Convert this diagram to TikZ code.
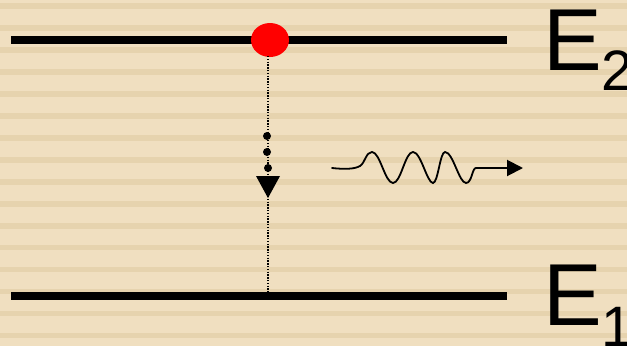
\documentclass[tikz,border=0pt]{standalone}
\usepackage{fontspec}
\setmainfont{Liberation Sans}
\usetikzlibrary{arrows.meta,shapes.geometric}
\definecolor{bglight}{RGB}{240,223,192}
\definecolor{bgstripe}{RGB}{230,211,174}
\begin{document}
\begin{tikzpicture}[x=1pt,y=-1pt,
  level/.style={line width=8pt},
  guide/.style={line width=1.3pt,dash pattern=on 1.3pt off 1.5pt},
  wave/.style={line width=1.8pt,line cap=round},
  bigtxt/.style={inner sep=0pt,anchor=base west,font=\fontsize{88}{88}\selectfont},
  subtxt/.style={inner sep=0pt,anchor=base west,font=\fontsize{57}{57}\selectfont}]
\useasboundingbox (0,0) rectangle (627,346);
\fill[bglight] (0,0) rectangle (627,346);
\foreach \k in {0,...,15}{
  \fill[bgstripe] (0,{3.3+21.96*\k}) rectangle (627,{8.9+21.96*\k});
}
% levels
\coordinate (t1) at (11,40);
\coordinate (t2) at (507,40);
\coordinate (b1) at (11,296);
\coordinate (b2) at (507,296);
\draw[level] (t1) -- (t2);
\draw[level] (b1) -- (b2);
% electron
\node[ellipse,fill=red,minimum width=38pt,minimum height=34pt,inner sep=0pt] (el) at (270,40) {};
\coordinate (gtop) at (268,56);
\coordinate (gbot) at (268,292);
\draw[guide] (gtop) -- (gbot);
% dots and arrowhead
\fill (267,136) circle (4pt);
\fill (267,152) circle (4pt);
\fill (268,168) circle (4pt);
\fill (256,176) -- (280,176) -- (268,198) -- cycle;
% photon wave
\coordinate (w0) at (332,168);
\coordinate (wend) at (476,168);
\coordinate (wtip) at (523,168);
\draw[wave] (w0) .. controls (345,169.5) and (355,169) .. (360,166)
  .. controls (365,163) and (366,152) .. (372,152)
  .. controls (380,152) and (385,183) .. (393,183)
  .. controls (401,183) and (405,152) .. (413,152)
  .. controls (421,152) and (427,183) .. (433,183)
  .. controls (438,183) and (440,152) .. (445,152)
  .. controls (453,152) and (459,183) .. (466,183)
  .. controls (472,183) and (472,168) .. (wend);
\draw[line width=2pt,-{Triangle[length=16pt,width=16pt]}] (wend) -- (wtip);
% labels
\node[bigtxt] (e2) at (543,70) {E};
\node[subtxt] (s2) at (601.5,90) {2};
\node[bigtxt] (e1) at (543,325) {E};
\node[subtxt] (s1) at (601.5,346) {1};
\end{tikzpicture}
\end{document}
